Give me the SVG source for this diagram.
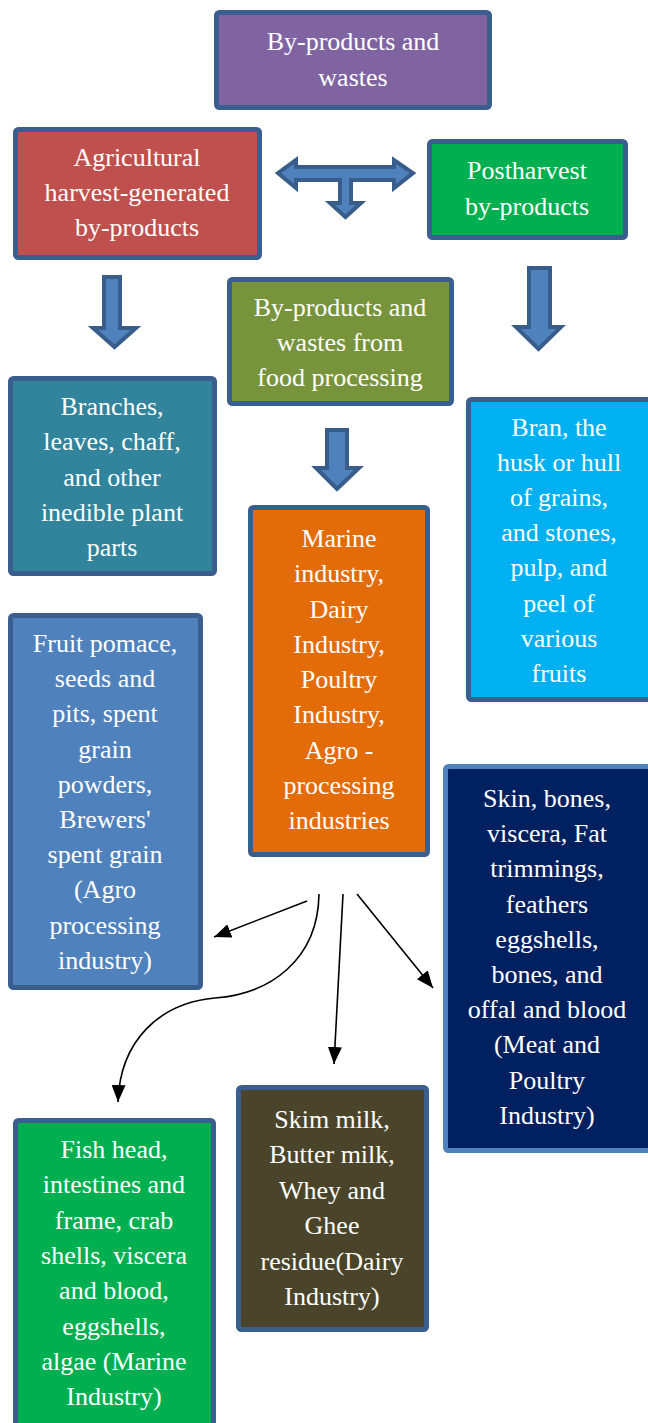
<svg xmlns="http://www.w3.org/2000/svg" width="648" height="1423" viewBox="0 0 648 1423">
<defs>
<style>
.box{stroke:#3A5F8E;stroke-width:5}
.t{font-size:26px;fill:#ffffff;text-anchor:middle}
.blk{fill:#4F81BD;stroke:#385D8A;stroke-width:4;stroke-linejoin:miter}
.ln{fill:none;stroke:#000;stroke-width:1.6}
</style>
<marker id="ah" markerUnits="userSpaceOnUse" markerWidth="18" markerHeight="14" refX="17" refY="7" orient="auto">
<path d="M0,0 L17,7 L0,14 z" fill="#000"/>
</marker>
</defs>
<rect width="648" height="1423" fill="#ffffff"/>
<g font-family="'Liberation Serif', 'Times New Roman', 'DejaVu Serif', serif">

<g id="n-root">
<rect class="box" x="216.5" y="12.5" width="273" height="95" rx="3" fill="#8064A2"/>
<text class="t" x="353" y="50">By-products and<tspan x="353" dy="36">wastes</tspan></text>
</g>

<g id="n-agri">
<rect class="box" x="15.5" y="129.5" width="244" height="128" rx="3" fill="#C0504D"/>
<text class="t" x="137" y="166">Agricultural<tspan x="137" dy="35">harvest-generated</tspan><tspan x="137" dy="35">by-products</tspan></text>
</g>

<g id="n-post">
<rect class="box" x="429.5" y="141.5" width="196" height="96" rx="3" fill="#00B050"/>
<text class="t" x="527" y="179">Postharvest<tspan x="527" dy="36">by-products</tspan></text>
</g>

<g id="n-food">
<rect class="box" x="229.5" y="279.5" width="222" height="124" rx="3" fill="#77933C"/>
<text class="t" x="340" y="316">By-products and<tspan x="340" dy="35">wastes from</tspan><tspan x="340" dy="35">food processing</tspan></text>
</g>

<g id="n-branches">
<rect class="box" x="10.5" y="378.5" width="204" height="195" rx="3" fill="#31849B"/>
<text class="t" x="112" y="415">Branches,<tspan x="112" dy="35.3">leaves, chaff,</tspan><tspan x="112" dy="35.3">and other</tspan><tspan x="112" dy="35.3">inedible plant</tspan><tspan x="112" dy="35.3">parts</tspan></text>
</g>

<g id="n-bran">
<rect class="box" x="468.5" y="399.5" width="184" height="300" rx="3" fill="#00B0F0"/>
<text class="t" x="559" y="436">Bran, the<tspan x="559" dy="35.1">husk or hull</tspan><tspan x="559" dy="35.1">of grains,</tspan><tspan x="559" dy="35.1">and stones,</tspan><tspan x="559" dy="35.1">pulp, and</tspan><tspan x="559" dy="35.1">peel of</tspan><tspan x="559" dy="35.1">various</tspan><tspan x="559" dy="35.1">fruits</tspan></text>
</g>

<g id="n-industry">
<rect class="box" x="250.5" y="507.5" width="177" height="347" rx="3" fill="#E36C09"/>
<text class="t" x="339" y="547">Marine<tspan x="339" dy="35.25">industry,</tspan><tspan x="339" dy="35.25">Dairy</tspan><tspan x="339" dy="35.25">Industry,</tspan><tspan x="339" dy="35.25">Poultry</tspan><tspan x="339" dy="35.25">Industry,</tspan><tspan x="339" dy="35.25">Agro -</tspan><tspan x="339" dy="35.25">processing</tspan><tspan x="339" dy="35.25">industries</tspan></text>
</g>

<g id="n-fruit">
<rect class="box" x="10.5" y="615.5" width="190" height="372" rx="3" fill="#4F81BD"/>
<text class="t" x="105" y="652">Fruit pomace,<tspan x="105" dy="35.2">seeds and</tspan><tspan x="105" dy="35.2">pits, spent</tspan><tspan x="105" dy="35.2">grain</tspan><tspan x="105" dy="35.2">powders,</tspan><tspan x="105" dy="35.2">Brewers'</tspan><tspan x="105" dy="35.2">spent grain</tspan><tspan x="105" dy="35.2">(Agro</tspan><tspan x="105" dy="35.2">processing</tspan><tspan x="105" dy="35.2">industry)</tspan></text>
</g>

<g id="n-meat">
<rect x="445.5" y="766.5" width="207" height="384" rx="3" fill="#002060" stroke="#4F81BD" stroke-width="5"/>
<text class="t" x="547" y="807">Skin, bones,<tspan x="547" dy="35.2">viscera, Fat</tspan><tspan x="547" dy="35.2">trimmings,</tspan><tspan x="547" dy="35.2">feathers</tspan><tspan x="547" dy="35.2">eggshells,</tspan><tspan x="547" dy="35.2">bones, and</tspan><tspan x="547" dy="35.2">offal and blood</tspan><tspan x="547" dy="35.2">(Meat and</tspan><tspan x="547" dy="35.2">Poultry</tspan><tspan x="547" dy="35.2">Industry)</tspan></text>
</g>

<g id="n-marine">
<rect class="box" x="15.5" y="1120.5" width="198" height="307" rx="3" fill="#00B050"/>
<text class="t" x="114" y="1158">Fish head,<tspan x="114" dy="35.3">intestines and</tspan><tspan x="114" dy="35.3">frame, crab</tspan><tspan x="114" dy="35.3">shells, viscera</tspan><tspan x="114" dy="35.3">and blood,</tspan><tspan x="114" dy="35.3">eggshells,</tspan><tspan x="114" dy="35.3">algae (Marine</tspan><tspan x="114" dy="35.3">Industry)</tspan></text>
</g>

<g id="n-dairy">
<rect class="box" x="238.5" y="1087.5" width="188" height="242" rx="3" fill="#4A452A"/>
<text class="t" x="332" y="1128">Skim milk,<tspan x="332" dy="35.4">Butter milk,</tspan><tspan x="332" dy="35.4">Whey and</tspan><tspan x="332" dy="35.4">Ghee</tspan><tspan x="332" dy="35.4">residue(Dairy</tspan><tspan x="332" dy="35.4">Industry)</tspan></text>
</g>
</g>

<g id="connectors">
<polygon class="blk" points="278,173 296,160 296,167 394,167 394,160 413,173 394,188 394,180 351,180 351,203 361,203 345.5,217 330,203 340,203 340,180 296,180 296,188"/>
<polygon class="blk" points="104,277 120,277 120,328 136,328 114.5,347 93,328 104,328"/>
<polygon class="blk" points="529,268 550,268 550,327 561,327 538.5,349 516,327 529,327"/>
<polygon class="blk" points="327,430 347,430 347,468 359,468 337,489 316,468 327,468"/>
<line class="ln" x1="307" y1="901" x2="214" y2="937" marker-end="url(#ah)"/>
<path class="ln" d="M319,894 C318,960 270,994 215,998 C160,1003 120,1040 118,1102" marker-end="url(#ah)"/>
<line class="ln" x1="343" y1="894" x2="334" y2="1064" marker-end="url(#ah)"/>
<line class="ln" x1="357" y1="894" x2="433" y2="988" marker-end="url(#ah)"/>
</g>
</svg>
